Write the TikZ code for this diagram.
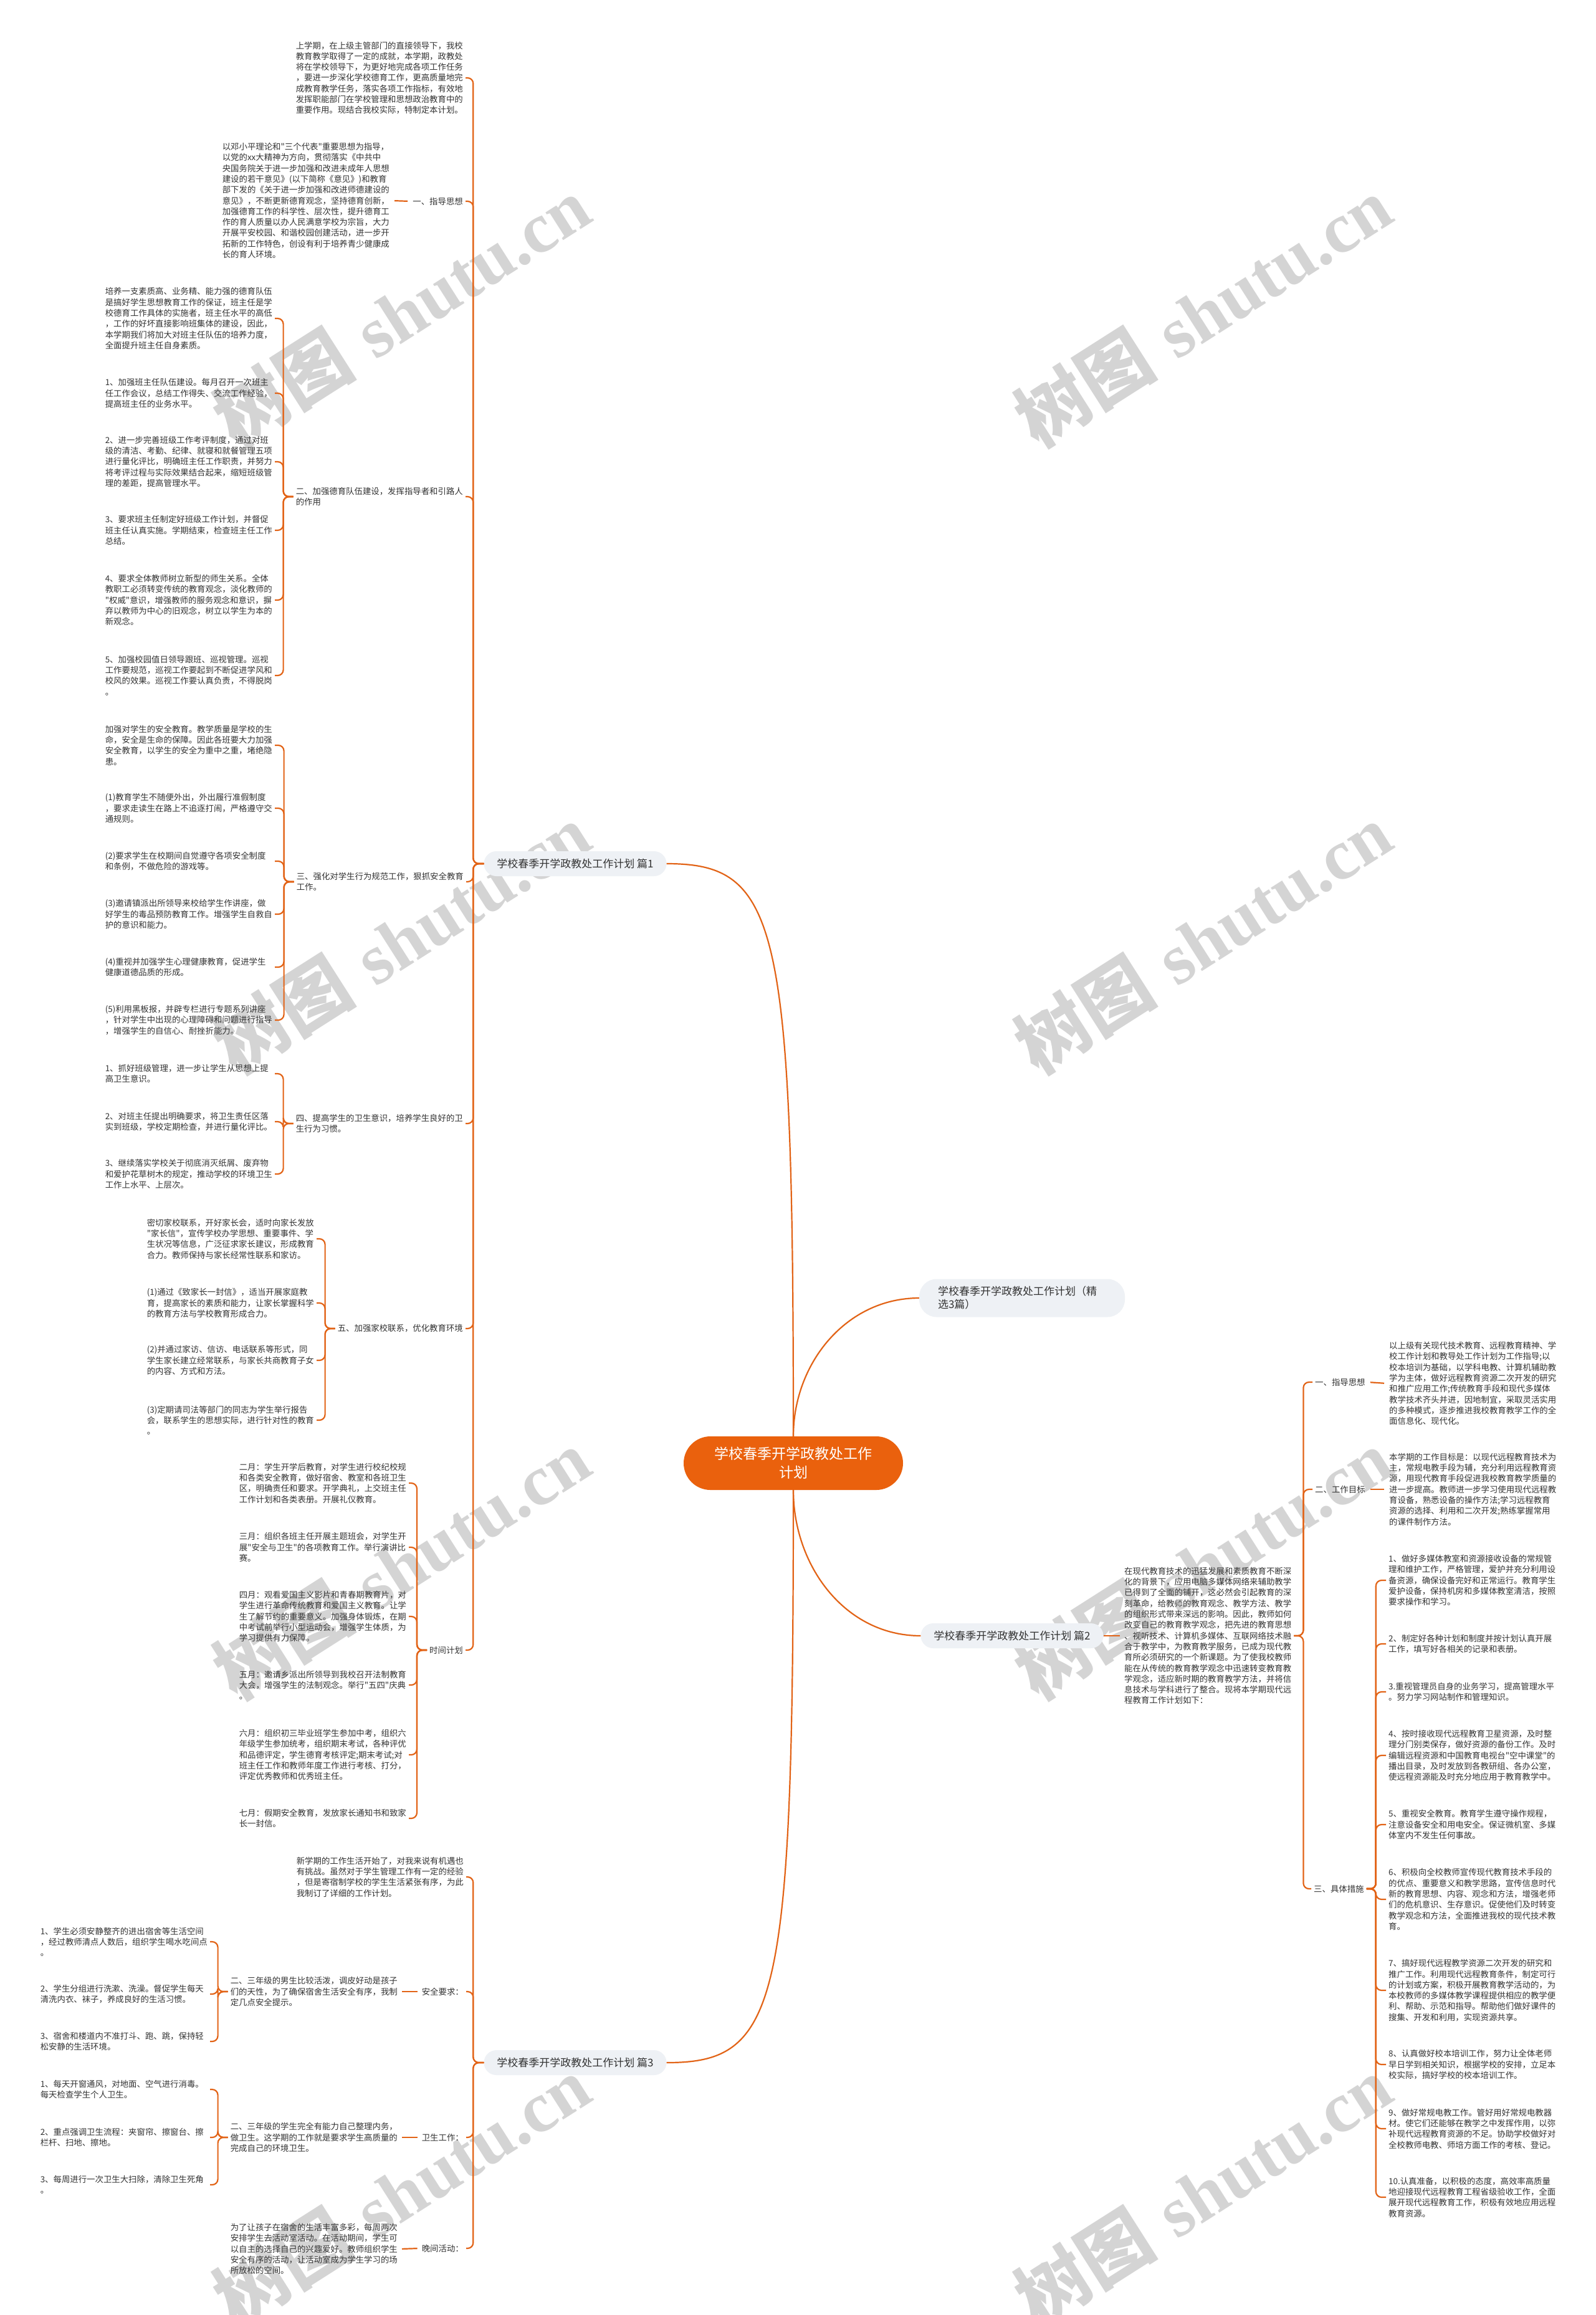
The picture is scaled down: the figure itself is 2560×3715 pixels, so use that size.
\documentclass[tikz,border=0pt]{standalone}
\usepackage{fontspec}
\newfontfamily\cjk{Noto Sans CJK SC}
\newfontfamily\wmser{Liberation Serif}
\definecolor{lc}{RGB}{226,99,22}
\definecolor{rootc}{RGB}{234,97,13}
\definecolor{pillc}{RGB}{238,241,245}
\definecolor{tc}{RGB}{51,51,51}
\definecolor{wmc}{RGB}{212,212,212}
\tikzset{
  tx/.style={font=\cjk\fontsize{13.4pt}{17.3pt}\selectfont, text=tc, align=left, inner xsep=4pt, inner ysep=1pt},
  para/.style={tx, text width=268pt},
  pillnode/.style={font=\cjk\fontsize{17pt}{21pt}\selectfont, text=tc, fill=pillc, rounded corners=20pt, minimum width=293pt, minimum height=40pt, inner sep=0pt, align=center},
  selnode/.style={font=\cjk\fontsize{17pt}{21pt}\selectfont, text=tc, fill=pillc, rounded corners=28pt, minimum height=61pt, text width=270pt, inner xsep=30pt, inner ysep=0pt, align=left},
  rootnode/.style={font=\cjk\fontsize{23pt}{30pt}\selectfont, text=white, fill=rootc, rounded corners=43pt, minimum width=352pt, minimum height=86pt, inner sep=0pt, align=center},
  br/.style={draw=lc, line width=2.2pt, rounded corners=9pt},
  ln/.style={draw=lc, line width=2.2pt},
  wmk/.style={text=wmc, rotate=32.5, inner sep=0pt, font=\fontsize{115pt}{120pt}\selectfont}
}
\begin{document}
\begin{tikzpicture}[x=1pt,y=-1pt]
\useasboundingbox (0,0) rectangle (2560,3715);
\fill[white] (0,0) rectangle (2560,3715);
% watermarks
\foreach \wx in {644,1930} \foreach \wy in {500,1506,2510,3516}
  \node[wmk] at (\wx,\wy) {{\cjk\bfseries 树图} {\wmser\bfseries shutu.cn}};

% root and branches
\node[rootnode] (root) at (1273,2348) {学校春季开学政教处工作\\计划};
\node[pillnode] (p1) at (923,1386) {学校春季开学政教处工作计划 篇1};
\node[selnode] (jx) at (1640,2083) {学校春季开学政教处工作计划（精\\选3篇）};
\node[pillnode] (p2) at (1624,2625) {学校春季开学政教处工作计划 篇2};
\node[pillnode] (p3) at (923,3310) {学校春季开学政教处工作计划 篇3};

% ===== 篇1 =====
\node[para,anchor=east] (a0) at (747,125) {上学期，在上级主管部门的直接领导下，我校\\教育教学取得了一定的成就，本学期，政教处\\将在学校领导下，为更好地完成各项工作任务\\，要进一步深化学校德育工作，更高质量地完\\成教育教学任务，落实各项工作指标，有效地\\发挥职能部门在学校管理和思想政治教育中的\\重要作用。现结合我校实际，特制定本计划。};
\node[tx,anchor=east] (b0) at (747,323) {一、指导思想};
\node[para,anchor=east] (b1) at (629,322) {以邓小平理论和"三个代表"重要思想为指导，\\以党的xx大精神为方向，贯彻落实《中共中\\央国务院关于进一步加强和改进未成年人思想\\建设的若干意见》(以下简称《意见》)和教育\\部下发的《关于进一步加强和改进师德建设的\\意见》，不断更新德育观念，坚持德育创新，\\加强德育工作的科学性、层次性，提升德育工\\作的育人质量以办人民满意学校为宗旨，大力\\开展平安校园、和谐校园创建活动，进一步开\\拓新的工作特色，创设有利于培养青少健康成\\长的育人环境。};

\node[tx,anchor=east] (c0) at (747,797) {二、加强德育队伍建设，发挥指导者和引路人\\的作用};
\node[para,anchor=east] (c1) at (441,511) {培养一支素质高、业务精、能力强的德育队伍\\是搞好学生思想教育工作的保证，班主任是学\\校德育工作具体的实施者，班主任水平的高低\\，工作的好坏直接影响班集体的建设，因此，\\本学期我们将加大对班主任队伍的培养力度，\\全面提升班主任自身素质。};
\node[para,anchor=east] (c2) at (441,631) {1、加强班主任队伍建设。每月召开一次班主\\任工作会议，总结工作得失、交流工作经验，\\提高班主任的业务水平。};
\node[para,anchor=east] (c3) at (441,741) {2、进一步完善班级工作考评制度，通过对班\\级的清洁、考勤、纪律、就寝和就餐管理五项\\进行量化评比，明确班主任工作职责，并努力\\将考评过程与实际效果结合起来，缩短班级管\\理的差距，提高管理水平。};
\node[para,anchor=east] (c4) at (441,851) {3、要求班主任制定好班级工作计划，并督促\\班主任认真实施。学期结束，检查班主任工作\\总结。};
\node[para,anchor=east] (c5) at (441,963) {4、要求全体教师树立新型的师生关系。全体\\教职工必须转变传统的教育观念，淡化教师的\\"权威"意识，增强教师的服务观念和意识，摒\\弃以教师为中心的旧观念，树立以学生为本的\\新观念。};
\node[para,anchor=east] (c6) at (441,1084) {5、加强校园值日领导跟班、巡视管理。巡视\\工作要规范，巡视工作要起到不断促进学风和\\校风的效果。巡视工作要认真负责，不得脱岗\\。};

\node[tx,anchor=east] (d0) at (748,1415) {三、强化对学生行为规范工作，狠抓安全教育\\工作。};
\node[para,anchor=east] (d1) at (441,1196) {加强对学生的安全教育。教学质量是学校的生\\命，安全是生命的保障。因此各班要大力加强\\安全教育，以学生的安全为重中之重，堵绝隐\\患。};
\node[para,anchor=east] (d2) at (441,1297) {(1)教育学生不随便外出，外出履行准假制度\\，要求走读生在路上不追逐打闹，严格遵守交\\通规则。};
\node[para,anchor=east] (d3) at (441,1382) {(2)要求学生在校期间自觉遵守各项安全制度\\和条例，不做危险的游戏等。};
\node[para,anchor=east] (d4) at (441,1467) {(3)邀请镇派出所领导来校给学生作讲座，做\\好学生的毒品预防教育工作。增强学生自救自\\护的意识和能力。};
\node[para,anchor=east] (d5) at (441,1552) {(4)重视并加强学生心理健康教育，促进学生\\健康道德品质的形成。};
\node[para,anchor=east] (d6) at (441,1637) {(5)利用黑板报，并辟专栏进行专题系列讲座\\，针对学生中出现的心理障碍和问题进行指导\\，增强学生的自信心、耐挫折能力。};

\node[tx,anchor=east] (e0) at (747,1803) {四、提高学生的卫生意识，培养学生良好的卫\\生行为习惯。};
\node[para,anchor=east] (e1) at (441,1723) {1、抓好班级管理，进一步让学生从思想上提\\高卫生意识。};
\node[para,anchor=east] (e2) at (441,1800) {2、对班主任提出明确要求，将卫生责任区落\\实到班级，学校定期检查，并进行量化评比。};
\node[para,anchor=east] (e3) at (441,1884) {3、继续落实学校关于彻底消灭纸屑、废弃物\\和爱护花草树木的规定，推动学校的环境卫生\\工作上水平、上层次。};

\node[tx,anchor=east] (f0) at (747,2132) {五、加强家校联系，优化教育环境};
\node[para,anchor=east] (f1) at (508,1988) {密切家校联系，开好家长会，适时向家长发放\\"家长信"，宣传学校办学思想、重要事件、学\\生状况等信息，广泛征求家长建议，形成教育\\合力。教师保持与家长经常性联系和家访。};
\node[para,anchor=east] (f2) at (508,2091) {(1)通过《致家长一封信》，适当开展家庭教\\育，提高家长的素质和能力，让家长掌握科学\\的教育方法与学校教育形成合力。};
\node[para,anchor=east] (f3) at (508,2183) {(2)并通过家访、信访、电话联系等形式，同\\学生家长建立经常联系，与家长共商教育子女\\的内容、方式和方法。};
\node[para,anchor=east] (f4) at (508,2279) {(3)定期请司法等部门的同志为学生举行报告\\会，联系学生的思想实际，进行针对性的教育\\。};

\node[tx,anchor=east] (g0) at (747,2648) {时间计划};
\node[para,anchor=east] (g1) at (656,2380) {二月：学生开学后教育，对学生进行校纪校规\\和各类安全教育，做好宿舍、教室和各班卫生\\区，明确责任和要求。开学典礼，上交班主任\\工作计划和各类表册。开展礼仪教育。};
\node[para,anchor=east] (g2) at (656,2483) {三月：组织各班主任开展主题班会，对学生开\\展"安全与卫生"的各项教育工作。举行演讲比\\赛。};
\node[para,anchor=east] (g3) at (656,2594) {四月：观看爱国主义影片和青春期教育片，对\\学生进行革命传统教育和爱国主义教育。让学\\生了解节约的重要意义。加强身体锻炼，在期\\中考试前举行小型运动会，增强学生体质，为\\学习提供有力保障。};
\node[para,anchor=east] (g4) at (656,2704) {五月：邀请乡派出所领导到我校召开法制教育\\大会，增强学生的法制观念。举行"五四"庆典\\。};
\node[para,anchor=east] (g5) at (656,2816) {六月：组织初三毕业班学生参加中考，组织六\\年级学生参加统考，组织期末考试，各种评优\\和品德评定，学生德育考核评定;期末考试;对\\班主任工作和教师年度工作进行考核、打分，\\评定优秀教师和优秀班主任。};
\node[para,anchor=east] (g6) at (656,2918) {七月：假期安全教育，发放家长通知书和致家\\长一封信。};

% ===== 篇3 =====
\node[para,anchor=east] (h0) at (748,3012) {新学期的工作生活开始了，对我来说有机遇也\\有挑战。虽然对于学生管理工作有一定的经验\\，但是寄宿制学校的学生生活紧张有序，为此\\我制订了详细的工作计划。};
\node[tx,anchor=east] (i0) at (748,3196) {安全要求：};
\node[para,anchor=east] (i1) at (642,3196) {二、三年级的男生比较活泼，调皮好动是孩子\\们的天性，为了确保宿舍生活安全有序，我制\\定几点安全提示。};
\node[para,anchor=east] (i2) at (337,3116) {1、学生必须安静整齐的进出宿舍等生活空间\\，经过教师清点人数后，组织学生喝水吃间点\\。};
\node[para,anchor=east] (i3) at (337,3200) {2、学生分组进行洗漱、洗澡。督促学生每天\\清洗内衣、袜子，养成良好的生活习惯。};
\node[para,anchor=east] (i4) at (337,3276) {3、宿舍和楼道内不准打斗、跑、跳，保持轻\\松安静的生活环境。};
\node[tx,anchor=east] (j0) at (748,3430) {卫生工作：};
\node[para,anchor=east] (j1) at (642,3430) {二、三年级的学生完全有能力自己整理内务，\\做卫生。这学期的工作就是要求学生高质量的\\完成自己的环境卫生。};
\node[para,anchor=east] (j2) at (337,3353) {1、每天开窗通风，对地面、空气进行消毒。\\每天检查学生个人卫生。};
\node[para,anchor=east] (j3) at (337,3430) {2、重点强调卫生流程：夹窗帘、擦窗台、擦\\栏杆、扫地、擦地。};
\node[para,anchor=east] (j4) at (337,3506) {3、每周进行一次卫生大扫除，清除卫生死角\\。};
\node[tx,anchor=east] (k0) at (748,3608) {晚间活动：};
\node[para,anchor=east] (k1) at (642,3609) {为了让孩子在宿舍的生活丰富多彩，每周两次\\安排学生去活动室活动。在活动期间，学生可\\以自主的选择自己的兴趣爱好。教师组织学生\\安全有序的活动，让活动室成为学生学习的场\\所放松的空间。};

% ===== 篇2 =====
\node[para,anchor=west] (m0) at (1800,2625) {在现代教育技术的迅猛发展和素质教育不断深\\化的背景下，应用电脑多媒体网络来辅助教学\\已得到了全面的铺开，这必然会引起教育的深\\刻革命，给教师的教育观念、教学方法、教学\\的组织形式带来深远的影响。因此，教师如何\\改变自己的教育教学观念，把先进的教育思想\\、视听技术、计算机多媒体、互联网络技术融\\合于教学中，为教育教学服务，已成为现代教\\育所必须研究的一个新课题。为了使我校教师\\能在从传统的教育教学观念中迅速转变教育教\\学观念，适应新时期的教育教学方法，并将信\\息技术与学科进行了整合。现将本学期现代远\\程教育工作计划如下：};
\node[tx,anchor=west] (m1) at (2106,2218) {一、指导思想};
\node[para,anchor=west] (m1p) at (2225,2220) {以上级有关现代技术教育、远程教育精神、学\\校工作计划和教导处工作计划为工作指导;以\\校本培训为基础，以学科电教、计算机辅助教\\学为主体，做好远程教育资源二次开发的研究\\和推广应用工作;传统教育手段和现代多媒体\\教学技术齐头并进，因地制宜，采取灵活实用\\的多种模式，逐步推进我校教育教学工作的全\\面信息化、现代化。};
\node[tx,anchor=west] (m2) at (2106,2390) {二、工作目标};
\node[para,anchor=west] (m2p) at (2225,2390) {本学期的工作目标是：以现代远程教育技术为\\主，常规电教手段为辅，充分利用远程教育资\\源，用现代教育手段促进我校教育教学质量的\\进一步提高。教师进一步学习使用现代远程教\\育设备，熟悉设备的操作方法;学习远程教育\\资源的选择、利用和二次开发;熟练掌握常用\\的课件制作方法。};
\node[tx,anchor=west] (m3) at (2104,3031) {三、具体措施};
\node[para,anchor=west] (q1) at (2224,2536) {1、做好多媒体教室和资源接收设备的常规管\\理和维护工作，严格管理，爱护并充分利用设\\备资源，确保设备完好和正常运行。教育学生\\爱护设备，保持机房和多媒体教室清洁，按照\\要求操作和学习。};
\node[para,anchor=west] (q2) at (2224,2638) {2、制定好各种计划和制度并按计划认真开展\\工作，填写好各相关的记录和表册。};
\node[para,anchor=west] (q3) at (2224,2715) {3.重视管理员自身的业务学习，提高管理水平\\。努力学习网站制作和管理知识。};
\node[para,anchor=west] (q4) at (2224,2817) {4、按时接收现代远程教育卫星资源，及时整\\理分门别类保存，做好资源的备份工作。及时\\编辑远程资源和中国教育电视台"空中课堂"的\\播出目录，及时发放到各教研组、各办公室，\\使远程资源能及时充分地应用于教育教学中。};
\node[para,anchor=west] (q5) at (2224,2928) {5、重视安全教育。教育学生遵守操作规程，\\注意设备安全和用电安全。保证微机室、多媒\\体室内不发生任何事故。};
\node[para,anchor=west] (q6) at (2224,3048) {6、积极向全校教师宣传现代教育技术手段的\\的优点、重要意义和教学思路，宣传信息时代\\新的教育思想、内容、观念和方法，增强老师\\们的危机意识、生存意识。促使他们及时转变\\教学观念和方法，全面推进我校的现代技术教\\育。};
\node[para,anchor=west] (q7) at (2224,3194) {7、搞好现代远程教学资源二次开发的研究和\\推广工作。利用现代远程教育条件，制定可行\\的计划或方案，积极开展教育教学活动的，为\\本校教师的多媒体教学课程提供相应的教学便\\利、帮助、示范和指导。帮助他们做好课件的\\搜集、开发和利用，实现资源共享。};
\node[para,anchor=west] (q8) at (2224,3313) {8、认真做好校本培训工作，努力让全体老师\\早日学到相关知识，根据学校的安排，立足本\\校实际，搞好学校的校本培训工作。};
\node[para,anchor=west] (q9) at (2224,3416) {9、做好常规电教工作。管好用好常规电教器\\材。使它们还能够在教学之中发挥作用，以弥\\补现代远程教育资源的不足。协助学校做好对\\全校教师电教、师培方面工作的考核、登记。};
\node[para,anchor=west] (q10) at (2224,3526) {10.认真准备，以积极的态度，高效率高质量\\地迎接现代远程教育工程省级验收工作，全面\\展开现代远程教育工作，积极有效地应用远程\\教育资源。};

% ===== connectors =====
\draw[ln] (root.north) .. controls (1273,1480) and (1250,1386) .. (p1.east);
\draw[ln] (root.north) to[out=90,in=180] (jx.west);
\draw[ln] (root.south) to[out=-90,in=180] (p2.west);
\draw[ln] (root.south) .. controls (1273,3220) and (1250,3310) .. (p3.east);

\foreach \c in {a0,b0,c0,d0,e0,f0,g0} \draw[br] (p1.west) -- ++(-17,0) |- (\c.east);
\draw[ln,shorten <=4pt,shorten >=4pt] (b0.west) -- (b1.east);
\foreach \c in {c1,c2,c3,c4,c5,c6} \draw[br] (c0.west) -- ++(-16,0) |- (\c.east);
\foreach \c in {d1,d2,d3,d4,d5,d6} \draw[br] (d0.west) -- ++(-16,0) |- (\c.east);
\foreach \c in {e1,e2,e3} \draw[br] (e0.west) -- ++(-16,0) |- (\c.east);
\foreach \c in {f1,f2,f3,f4} \draw[br] (f0.west) -- ++(-16,0) |- (\c.east);
\foreach \c in {g1,g2,g3,g4,g5,g6} \draw[br] (g0.west) -- ++(-16,0) |- (\c.east);

\foreach \c in {h0,i0,j0,k0} \draw[br] (p3.west) -- ++(-17,0) |- (\c.east);
\draw[ln,shorten <=3pt,shorten >=3pt] (i0.west) -- (i1.east);
\draw[ln,shorten <=3pt,shorten >=3pt] (j0.west) -- (j1.east);
\draw[ln,shorten <=3pt,shorten >=3pt] (k0.west) -- (k1.east);
\foreach \c in {i2,i3,i4} \draw[br] (i1.west) -- ++(-16,0) |- (\c.east);
\foreach \c in {j2,j3,j4} \draw[br] (j1.west) -- ++(-16,0) |- (\c.east);

\draw[ln,shorten >=3pt] (p2.east) -- (m0.west);
\foreach \c in {m1,m2,m3} \draw[br] (m0.east) -- ++(15,0) |- (\c.west);
\draw[ln,shorten <=4pt,shorten >=4pt] (m1.east) -- (m1p.west);
\draw[ln,shorten <=4pt,shorten >=4pt] (m2.east) -- (m2p.west);
\foreach \c in {q1,q2,q3,q4,q5,q6,q7,q8,q9,q10} \draw[br] (m3.east) -- ++(15,0) |- (\c.west);
\end{tikzpicture}
\end{document}
